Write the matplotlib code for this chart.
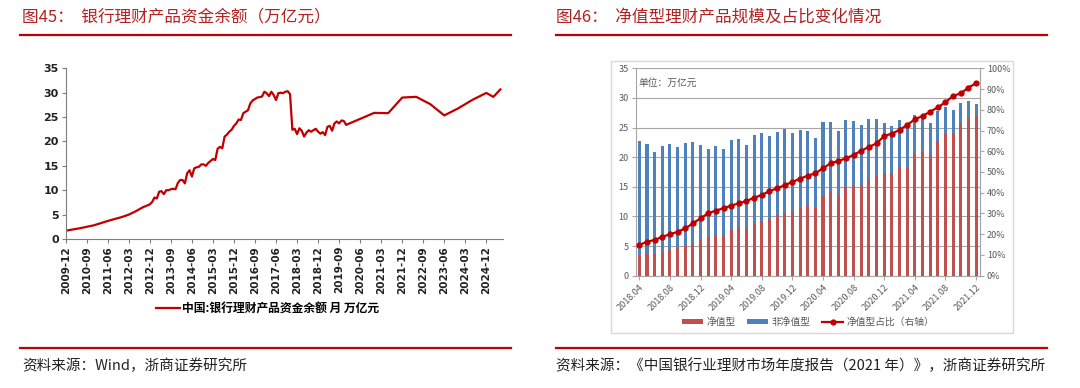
import numpy as np
import pandas as pd
import matplotlib.pyplot as plt
from matplotlib.patches import Rectangle
from matplotlib.lines import Line2D

plt.rcParams['font.family'] = ['Noto Sans CJK SC', 'DejaVu Sans']

# ---- left chart: bank wealth management balance (trillion yuan)
early_dates = ['2009-12', '2010-06', '2010-12', '2011-06', '2011-12', '2012-03', '2012-06', '2012-09']
early_vals = [1.7, 2.2, 2.8, 3.7, 4.5, 5.0, 5.7, 6.5]

monthly_start, monthly_end = '2012-12', '2019-12'
monthly_vals = [7.1, 7.6, 8.5, 8.3, 9.7, 9.8, 9.2, 10.0, 10.0, 10.2, 10.3, 10.2,
                11.5, 12.1, 12.1, 11.4, 13.5, 14.1, 12.8, 14.5, 14.7, 14.8, 15.3, 15.3,
                15.0, 15.6, 16.0, 16.4, 16.2, 18.5, 18.9, 18.6, 21.0, 21.4, 22.0, 22.4,
                23.2, 23.7, 24.5, 24.4, 25.8, 26.1, 26.4, 27.8, 28.4, 28.7, 29.0, 29.1,
                29.2, 30.2, 29.9, 29.3, 30.2, 29.5, 28.5, 29.9, 30.0, 29.9, 30.2, 30.3,
                29.7, 22.4, 22.6, 21.5, 22.7, 22.2, 21.0, 21.8, 22.3, 22.0, 22.3, 22.6,
                22.0, 21.6, 21.9, 21.3, 23.0, 23.2, 22.2, 23.7, 24.1, 23.7, 24.3, 24.2,
                23.4]

late_dates = ['2020-12', '2021-06', '2021-12', '2022-06', '2022-12', '2023-06',
              '2023-12', '2024-06', '2024-12', '2025-03', '2025-06']
late_vals = [25.86, 25.80, 29.00, 29.15, 27.65, 25.34, 26.80, 28.52, 29.95, 29.14, 30.67]

left_ticks = ['2009-12', '2010-09', '2011-06', '2012-03', '2012-12', '2013-09', '2014-06',
              '2015-03', '2015-12', '2016-09', '2017-06', '2018-03', '2018-12', '2019-09',
              '2020-06', '2021-03', '2021-12', '2022-09', '2023-06', '2024-03', '2024-12']

# ---- right chart: NAV-type products
right_months = list(pd.period_range('2018-04', '2021-12', freq='M').strftime('%Y.%m'))
nav = [3.4, 3.6, 3.6, 4.05, 4.4, 4.6, 5.0, 5.6, 6.1, 6.5,
       6.9, 6.9, 7.7, 8.0, 7.9, 8.8, 9.3, 9.6, 10.2, 10.6,
       10.9, 11.5, 11.8, 11.4, 13.4, 14.1, 13.4, 14.9, 15.2, 15.3,
       16.3, 16.8, 17.3, 17.3, 18.3, 18.2, 20.5, 20.9, 20.4, 22.7,
       23.9, 24.1, 25.7, 26.7, 26.9]
total = [22.7, 22.2, 20.8, 21.9, 22.3, 21.7, 22.4, 22.6, 22.0, 21.3,
         21.9, 21.3, 22.9, 23.1, 22.1, 23.7, 24.0, 23.5, 24.3, 24.8,
         24.1, 24.6, 24.5, 23.3, 25.9, 25.9, 24.4, 26.3, 26.1, 25.5,
         26.4, 26.4, 25.7, 25.3, 26.2, 25.4, 27.2, 27.0, 25.7, 27.8,
         28.4, 27.9, 29.2, 29.4, 28.9]
nav_share = [14.8, 16.4, 17.2, 18.8, 19.9, 21.2, 22.8, 25.2, 27.7, 30.1,
             31.4, 32.5, 33.8, 34.9, 36.0, 37.6, 38.9, 40.8, 42.1, 43.7,
             45.2, 46.8, 48.2, 49.4, 51.8, 54.2, 55.3, 56.6, 58.2, 60.3,
             62.1, 63.8, 67.4, 68.5, 70.3, 72.7, 75.4, 77.0, 79.1, 81.2,
             83.6, 86.7, 87.9, 90.7, 92.8]


def month_idx(s, base='2009-12'):
    y, m = map(int, s.replace('.', '-').split('-'))
    by, bm = map(int, base.split('-'))
    return (y - by) * 12 + (m - bm)


W, H = 1080, 388
fig = plt.figure(figsize=(W / 100, H / 100), dpi=100)
title_c = '#B22222'
rule_c = '#C00000'


def fx(px):
    return px / W


def fy(py):
    return 1 - py / H


# titles, rules, sources
fig.text(fx(22), fy(17), '图45：  银行理财产品资金余额（万亿元）', color=title_c,
         fontsize=12, va='center', ha='left')
fig.text(fx(556), fy(17), '图46：  净值型理财产品规模及占比变化情况', color=title_c,
         fontsize=12, va='center', ha='left')
for x0, x1 in [(20, 511), (556, 1047)]:
    fig.add_artist(Line2D([fx(x0), fx(x1)], [fy(35), fy(35)], color=rule_c, lw=1.6))
    fig.add_artist(Line2D([fx(x0), fx(x1)], [fy(347.5), fy(347.5)], color=rule_c, lw=1.6))
fig.text(fx(22), fy(366), '资料来源：Wind，浙商证券研究所', fontsize=10.5, va='center',
         ha='left', color='#222222')
fig.text(fx(556), fy(366), '资料来源：《中国银行业理财市场年度报告（2021 年）》，浙商证券研究所',
         fontsize=10.5, va='center', ha='left', color='#222222')

# ---- left axes
axl = fig.add_axes([fx(65.7), fy(239), fx(502.7 - 65.7), (239 - 68.3) / H])
lx = ([month_idx(d) for d in early_dates]
      + [month_idx(monthly_start) + i for i in range(len(monthly_vals))]
      + [month_idx(d) for d in late_dates])
ly = early_vals + monthly_vals + late_vals
line_l, = axl.plot(lx, ly, color='#C00000', lw=1.6, label='中国:银行理财产品资金余额 月 万亿元')
axl.set_xlim(0, 187)
axl.set_ylim(0, 35)
axl.set_yticks(range(0, 36, 5))
axl.set_xticks([month_idx(t) for t in left_ticks])
axl.set_xticklabels(left_ticks, rotation=90, fontsize=7.5, fontweight='bold',
                    family='DejaVu Sans')
for lab in axl.get_yticklabels():
    lab.set_fontsize(8)
    lab.set_fontweight('bold')
    lab.set_family('DejaVu Sans')
for s in ['top', 'right']:
    axl.spines[s].set_visible(False)
for s in ['left', 'bottom']:
    axl.spines[s].set_color('#7f7f7f')
axl.tick_params(axis='both', colors='#7f7f7f', labelcolor='#222222', length=3, pad=2)
fig.legend(handles=[line_l], loc='center', bbox_to_anchor=(fx(268), fy(309)), frameon=False,
           prop={'size': 8.5, 'weight': 'bold'}, handlelength=2.0, handletextpad=0.2)

# ---- right frame
fig.add_artist(Rectangle((fx(610.5), fy(333)), fx(1012.5 - 610.5), (333 - 61) / H,
                         fill=False, edgecolor='#d9d9d9', lw=1))

# ---- right axes
axr = fig.add_axes([fx(635.5), fy(275.7), fx(344.4), (275.7 - 68.3) / H])
xr = np.arange(len(right_months))
non_nav = [t - n for t, n in zip(total, nav)]
b1 = axr.bar(xr, nav, width=0.4, color='#C0504D', label='净值型', zorder=2)
b2 = axr.bar(xr, non_nav, bottom=nav, width=0.4, color='#4F81BD', label='非净值型', zorder=2)
axr.set_xlim(-0.5, len(right_months) - 0.5)
axr.set_ylim(0, 35)
axr.set_yticks(range(0, 36, 5))
axr.yaxis.grid(True, color='#a6a6a6', lw=0.8, zorder=0)
axr.set_axisbelow(True)
axr.set_xticks(xr[::4])
axr.set_xticklabels(right_months[::4], rotation=45, ha='right', rotation_mode='anchor',
                    fontsize=6.5, color='#595959')
for lab in axr.get_yticklabels():
    lab.set_fontsize(6.5)
    lab.set_color('#595959')
axr.spines['top'].set_visible(False)
for s in ['left', 'right', 'bottom']:
    axr.spines[s].set_color('#a6a6a6')
axr.tick_params(axis='both', colors='#a6a6a6', labelcolor='#595959', length=3, pad=2)
axr.text(0.01, 0.93, '单位：万亿元', transform=axr.transAxes, fontsize=7, color='#595959',
         va='center', ha='left')

ax2 = axr.twinx()
ln, = ax2.plot(xr, nav_share, color='#C00000', lw=1.6, marker='o', markersize=3.5,
               label='净值型占比（右轴）', zorder=3)
ax2.set_ylim(0, 100)
ax2.set_yticks(range(0, 101, 10))
ax2.set_yticklabels([f'{v}%' for v in range(0, 101, 10)], fontsize=6.5, color='#595959')
for s in ['top', 'left', 'bottom']:
    ax2.spines[s].set_visible(False)
ax2.spines['right'].set_color('#a6a6a6')
ax2.tick_params(axis='y', colors='#a6a6a6', labelcolor='#595959', length=3, pad=2)

fig.legend(handles=[b1, b2, ln], loc='center', bbox_to_anchor=(fx(808), fy(322)), ncol=3,
           frameon=False, prop={'size': 7}, handlelength=2.2, handleheight=0.5,
           handletextpad=0.3, columnspacing=1.2, labelcolor='#595959')

fig.savefig('out.png', dpi=100)
